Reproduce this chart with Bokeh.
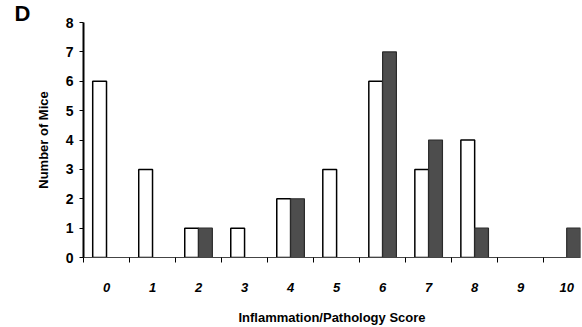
from bokeh.plotting import figure
from bokeh.models import ColumnDataSource, FixedTicker, Range1d
from bokeh.transform import dodge
from bokeh.embed import file_html
from bokeh.resources import INLINE

scores = [0, 1, 2, 3, 4, 5, 6, 7, 8, 9, 10]
group_open = [6, 3, 1, 1, 2, 3, 6, 3, 4, 0, 0]
group_filled = [0, 0, 1, 0, 2, 0, 7, 4, 1, 0, 1]
tick_labels = [str(s) for s in scores]
y_ticks = [0, 1, 2, 3, 4, 5, 6, 7, 8]

src_a = ColumnDataSource(dict(x=[s for s, v in zip(scores, group_open) if v > 0],
                              top=[v for v in group_open if v > 0]))
src_b = ColumnDataSource(dict(x=[s for s, v in zip(scores, group_filled) if v > 0],
                              top=[v for v in group_filled if v > 0]))

p = figure(width=582, height=327, output_backend="svg", toolbar_location=None,
           x_range=Range1d(-0.5, 10.3), y_range=Range1d(0, 8),
           min_border_left=83, min_border_right=2, min_border_top=22, min_border_bottom=67,
           title="D")
p.title.align = "left"
p.title.offset = -69
p.title.standoff = -6
p.title.text_font = "Liberation Sans"
p.title.text_font_style = "bold"
p.title.text_font_size = "22px"
p.title.text_color = "black"
p.outline_line_color = None
p.grid.visible = False
p.background_fill_color = "white"
p.border_fill_color = "white"

p.vbar(x=dodge("x", -0.15, range=p.x_range), top="top", width=0.3, source=src_a,
       fill_color="white", line_color="black", line_width=1.5)
p.vbar(x=dodge("x", 0.15, range=p.x_range), top="top", width=0.3, source=src_b,
       fill_color="#4d4d4d", line_color="#2a2a2a", line_width=1.2)

xt = FixedTicker(ticks=scores, minor_ticks=[s - 0.5 for s in scores] + [10.5])
p.xaxis.ticker = xt
p.xaxis.major_label_overrides = {s: l for s, l in zip(scores, tick_labels)}
p.xaxis.major_tick_out = 0
p.xaxis.major_tick_in = 0
p.xaxis.minor_tick_out = 5
p.xaxis.minor_tick_in = 0
p.xaxis.minor_tick_line_color = "black"
p.xaxis.axis_line_color = "#444444"
p.xaxis.axis_line_width = 1.2
p.xaxis.major_label_standoff = 20
p.xaxis.major_label_text_font = "Liberation Sans"
p.xaxis.major_label_text_font_style = "bold italic"
p.xaxis.major_label_text_font_size = "13px"
p.xaxis.major_label_text_color = "black"
p.xaxis.axis_label = "Inflammation/Pathology Score"
p.xaxis.axis_label_text_font = "Liberation Sans"
p.xaxis.axis_label_text_font_style = "bold"
p.xaxis.axis_label_text_font_size = "13px"
p.xaxis.axis_label_text_color = "black"
p.xaxis.axis_label_standoff = 15

p.yaxis.ticker = FixedTicker(ticks=y_ticks, minor_ticks=[])
p.yaxis.major_tick_out = 4
p.yaxis.major_tick_in = 0
p.yaxis.axis_line_color = "black"
p.yaxis.axis_line_width = 2
p.yaxis.major_tick_line_width = 1.2
p.yaxis.major_label_standoff = 6
p.yaxis.major_label_text_font = "Liberation Sans"
p.yaxis.major_label_text_font_style = "bold"
p.yaxis.major_label_text_font_size = "14px"
p.yaxis.major_label_text_color = "black"
p.yaxis.axis_label = "Number of Mice"
p.yaxis.axis_label_text_font = "Liberation Sans"
p.yaxis.axis_label_text_font_style = "bold"
p.yaxis.axis_label_text_font_size = "13px"
p.yaxis.axis_label_text_color = "black"
p.yaxis.axis_label_standoff = 12

open("out.html", "w").write(file_html(p, INLINE))
